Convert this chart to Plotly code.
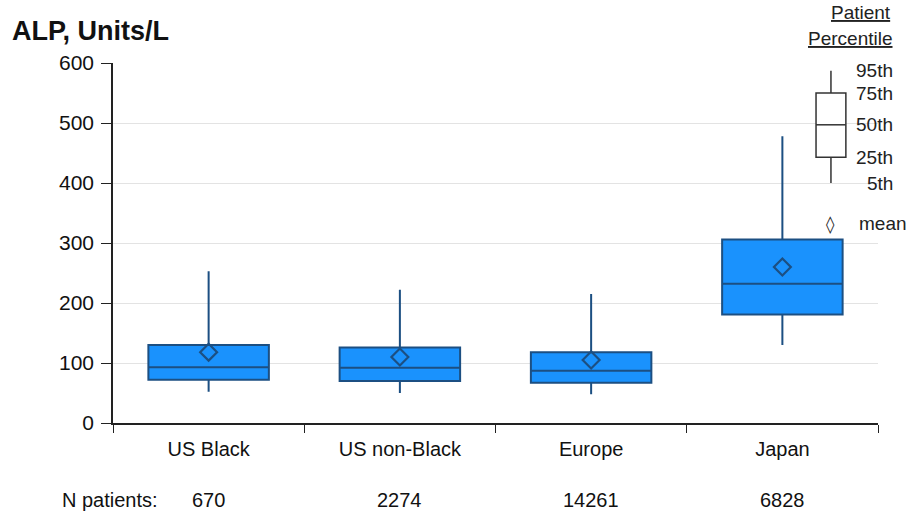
import plotly.graph_objects as go

categories = ["US Black", "US non-Black", "Europe", "Japan"]
p5 = [52, 50, 48, 130]
p25 = [72, 70, 67, 181]
p50 = [93, 92, 87, 232]
p75 = [130, 126, 118, 306]
p95 = [253, 222, 215, 478]
means = [118, 110, 105, 260]
n_patients = ["670", "2274", "14261", "6828"]
y_ticks = [0, 100, 200, 300, 400, 500, 600]

# legend key values (in axis units)
leg_vals = {"95th": 587, "75th": 550, "50th": 497, "25th": 443, "5th": 400}
leg_mean = 332

FILL = "#1a92fd"
EDGE = "#1c4f82"
FONT = "Liberation Sans, Arial, sans-serif"

fig = go.Figure()
fig.add_trace(go.Box(
    x=categories, q1=p25, median=p50, q3=p75,
    lowerfence=p5, upperfence=p95,
    fillcolor=FILL, line=dict(color=EDGE, width=2),
    whiskerwidth=0, width=0.63, boxpoints=False, showlegend=False,
    hoverinfo="skip",
))
fig.add_trace(go.Scatter(
    x=categories, y=means, mode="markers",
    marker=dict(symbol="diamond-open", size=13, color=EDGE, line=dict(width=2.2, color=EDGE)),
    showlegend=False, hoverinfo="skip",
))

# legend key box
x0, x1, xc = 0.919, 0.958, 0.9385
lc = "#333333"
shapes = [
    dict(type="line", xref="paper", yref="y", x0=xc, x1=xc, y0=leg_vals["75th"], y1=leg_vals["95th"], line=dict(color=lc, width=1.5)),
    dict(type="line", xref="paper", yref="y", x0=xc, x1=xc, y0=leg_vals["5th"], y1=leg_vals["25th"], line=dict(color=lc, width=1.5)),
    dict(type="rect", xref="paper", yref="y", x0=x0, x1=x1, y0=leg_vals["25th"], y1=leg_vals["75th"], line=dict(color=lc, width=1.5), fillcolor="white"),
    dict(type="line", xref="paper", yref="y", x0=x0, x1=x1, y0=leg_vals["50th"], y1=leg_vals["50th"], line=dict(color=lc, width=1.5)),
]
LF = dict(size=19, color="#222", family=FONT)
annotations = []
for k, v in leg_vals.items():
    annotations.append(dict(xref="paper", yref="y", x=1.022, y=v, text=k, showarrow=False,
                            xanchor="right", yanchor="middle", font=LF))
annotations.append(dict(xref="paper", yref="y", x=xc, y=leg_mean, text="◊", showarrow=False,
                        xanchor="center", yanchor="middle", font=dict(size=17, color="#222", family="DejaVu Sans")))
annotations.append(dict(xref="paper", yref="y", x=1.041, y=leg_mean, text="mean", showarrow=False,
                        xanchor="right", yanchor="middle", font=LF))
annotations.append(dict(xref="paper", yref="paper", x=1.02, y=1.139, text="<u>Patient</u>", showarrow=False,
                        xanchor="right", yanchor="middle", font=LF))
annotations.append(dict(xref="paper", yref="paper", x=1.022, y=1.069, text="<u>Percentile</u>", showarrow=False,
                        xanchor="right", yanchor="middle", font=LF))
annotations.append(dict(xref="paper", yref="paper", x=-0.134, y=1.089, text="<b>ALP, Units/L</b>", showarrow=False,
                        xanchor="left", yanchor="middle", font=dict(size=27, color="#111", family=FONT)))
annotations.append(dict(xref="paper", yref="paper", x=-0.004, y=-0.214, text="N patients:", showarrow=False,
                        xanchor="center", yanchor="middle", font=dict(size=20, color="#111", family=FONT)))
for c, n in zip(categories, n_patients):
    annotations.append(dict(xref="x", yref="paper", x=c, y=-0.214, text=n, showarrow=False,
                            xanchor="center", yanchor="middle", font=dict(size=20, color="#111", family=FONT)))

fig.update_layout(
    width=911, height=515,
    margin=dict(l=113, r=33, t=63, b=92),
    paper_bgcolor="white", plot_bgcolor="white",
    font=dict(family=FONT, size=20, color="#111"),
    shapes=shapes, annotations=annotations,
    xaxis=dict(
        type="category", categoryorder="array", categoryarray=categories,
        showline=True, linecolor="#222", linewidth=1.5,
        ticks="outside", tickson="boundaries", ticklen=8, tickcolor="#222",
        showgrid=False, tickfont=dict(size=20, color="#111"),
        ticklabelstandoff=7,
        range=[-0.5, 3.5],
    ),
    yaxis=dict(
        range=[0, 600], tickvals=y_ticks, showline=True, linecolor="#222", linewidth=1.5,
        ticks="outside", ticklen=10, tickcolor="#222",
        showgrid=True, gridcolor="#e3e3e3", gridwidth=1, zeroline=False,
        tickfont=dict(size=21, color="#111"),
        ticklabelstandoff=3,
    ),
)

fig.write_html("out.html")
